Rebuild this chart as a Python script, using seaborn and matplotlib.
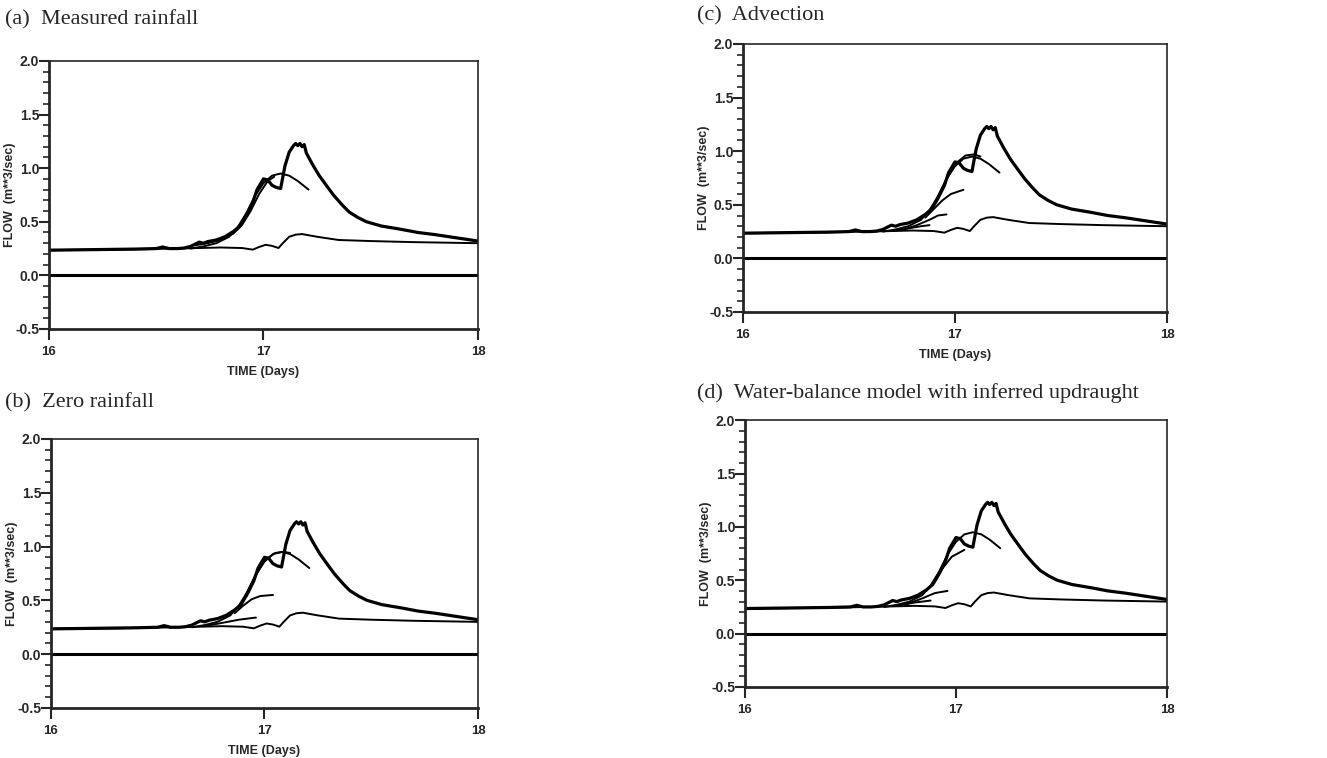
import numpy as np
import pandas as pd
import matplotlib
matplotlib.use('Agg')
import matplotlib.pyplot as plt
import seaborn as sns
from matplotlib.ticker import MultipleLocator

sns.set_style('ticks')
plt.rcParams['font.family'] = ['Liberation Sans', 'DejaVu Sans']

# observed flow (thick line)
obs_t = [16.0, 16.2, 16.4, 16.5, 16.53, 16.56, 16.6, 16.63, 16.66, 16.7, 16.72, 16.74,
         16.78, 16.82, 16.86, 16.89, 16.92, 16.95, 16.97, 17.0, 17.02, 17.04, 17.06,
         17.08, 17.1, 17.12, 17.14, 17.15, 17.16, 17.17, 17.18, 17.19, 17.2, 17.23,
         17.26, 17.3, 17.33, 17.37, 17.4, 17.44, 17.48, 17.55, 17.64, 17.72, 17.8,
         17.9, 18.0]
obs_q = [0.235, 0.24, 0.245, 0.25, 0.265, 0.25, 0.25, 0.255, 0.27, 0.31, 0.30, 0.315,
         0.33, 0.36, 0.41, 0.46, 0.56, 0.68, 0.80, 0.90, 0.89, 0.84, 0.82,
         0.81, 1.02, 1.15, 1.21, 1.23, 1.21, 1.23, 1.20, 1.22, 1.14, 1.03,
         0.93, 0.82, 0.74, 0.65, 0.59, 0.54, 0.50, 0.46, 0.43, 0.40, 0.38,
         0.35, 0.32]

# lower model curve
base_t = [16.0, 16.3, 16.6, 16.8, 16.9, 16.95, 16.98, 17.01, 17.04, 17.07, 17.09, 17.12,
          17.15, 17.18, 17.25, 17.35, 17.5, 17.7, 18.0]
base_q = [0.235, 0.24, 0.25, 0.26, 0.255, 0.24, 0.265, 0.285, 0.275, 0.255, 0.30, 0.36,
          0.38, 0.385, 0.36, 0.33, 0.32, 0.31, 0.30]

# long forecast
fc_t = [16.66, 16.72, 16.78, 16.84, 16.88, 16.92, 16.96, 17.0, 17.04, 17.08, 17.12, 17.16, 17.21]
fc_q = [0.25, 0.27, 0.30, 0.36, 0.45, 0.58, 0.74, 0.86, 0.93, 0.95, 0.93, 0.88, 0.80]

# short forecasts per panel
a_short = [([16.68, 16.74, 16.8, 16.86, 16.9, 16.94, 16.98, 17.02, 17.05],
            [0.28, 0.30, 0.33, 0.39, 0.47, 0.60, 0.76, 0.88, 0.92])]
b_short = [([16.72, 16.8, 16.88, 16.96], [0.26, 0.29, 0.32, 0.34]),
           ([16.86, 16.9, 16.94, 16.98, 17.04], [0.38, 0.45, 0.51, 0.54, 0.55]),
           ([16.9, 16.95, 17.0, 17.05, 17.09, 17.12], [0.50, 0.70, 0.87, 0.94, 0.95, 0.94])]
c_short = [([16.72, 16.78, 16.84, 16.88], [0.26, 0.28, 0.30, 0.31]),
           ([16.76, 16.82, 16.88, 16.92, 16.96], [0.27, 0.31, 0.36, 0.40, 0.41]),
           ([16.86, 16.9, 16.94, 16.98, 17.04], [0.38, 0.46, 0.54, 0.60, 0.64]),
           ([16.9, 16.95, 17.0, 17.05, 17.09, 17.12], [0.50, 0.70, 0.88, 0.96, 0.97, 0.95])]
d_short = [([16.72, 16.8, 16.88], [0.26, 0.29, 0.31]),
           ([16.76, 16.84, 16.9, 16.96], [0.27, 0.33, 0.38, 0.40]),
           ([16.86, 16.9, 16.94, 16.98, 17.04], [0.40, 0.50, 0.62, 0.72, 0.785])]

titles = ['(a)  Measured rainfall', '(b)  Zero rainfall', '(c)  Advection',
          '(d)  Water-balance model with inferred updraught']
y_ticks = [-0.5, 0.0, 0.5, 1.0, 1.5, 2.0]
x_ticks = [16, 17, 18]


def draw_panel(ax, shorts, xlabel):
    sns.lineplot(x=obs_t, y=obs_q, ax=ax, color='black', lw=2.3)
    sns.lineplot(x=base_t, y=base_q, ax=ax, color='black', lw=1.4)
    sns.lineplot(x=fc_t, y=fc_q, ax=ax, color='black', lw=1.4)
    for t, q in shorts:
        sns.lineplot(x=t, y=q, ax=ax, color='black', lw=1.4)
    ax.axhline(0.0, color='black', lw=2.2)
    ax.set_xlim(16, 18)
    ax.set_ylim(-0.5, 2.0)
    ax.set_xticks(x_ticks)
    ax.set_xticklabels([str(v) for v in x_ticks], fontweight='bold', fontsize=9.5)
    ax.set_yticks(y_ticks)
    ax.set_yticklabels([f'{v:.1f}' for v in y_ticks], fontweight='bold', fontsize=10)
    ax.yaxis.set_minor_locator(MultipleLocator(0.1))
    ax.tick_params(axis='y', which='major', length=7, width=1.5, direction='out', pad=0)
    ax.tick_params(axis='y', which='minor', length=4, width=1.2, direction='out')
    ax.tick_params(axis='x', which='major', length=8, width=1.5, direction='out', pad=4)
    for side in ['left', 'bottom']:
        ax.spines[side].set_linewidth(2.0)
    for side in ['top', 'right']:
        ax.spines[side].set_linewidth(1.2)
        ax.spines[side].set_visible(True)
    ax.set_ylabel('FLOW  (m**3/sec)', fontweight='bold', fontsize=9)
    # just left of the tick labels
    ax.yaxis.set_label_coords(-0.077, 0.5)
    if xlabel:
        ax.set_xlabel('TIME (Days)', fontweight='bold', fontsize=9, labelpad=6)
    else:
        ax.set_xlabel('')


fig = plt.figure(figsize=(13.27, 7.58), dpi=100)
ax_a = fig.add_axes([0.0369, 0.566, 0.3233, 0.3536])
ax_b = fig.add_axes([0.0384, 0.066, 0.3218, 0.355])
ax_c = fig.add_axes([0.5599, 0.5884, 0.3195, 0.3536])
ax_d = fig.add_axes([0.5614, 0.0937, 0.318, 0.352])

draw_panel(ax_a, a_short, True)
draw_panel(ax_b, b_short, True)
draw_panel(ax_c, c_short, True)
draw_panel(ax_d, d_short, False)

title_font = dict(family=['Liberation Serif', 'DejaVu Serif'], fontsize=16, va='center', ha='left')
fig.text(0.004, 0.9736, titles[0], **title_font)
fig.text(0.004, 0.468, titles[1], **title_font)
fig.text(0.525, 0.979, titles[2], **title_font)
fig.text(0.525, 0.4815, titles[3], **title_font)

fig.savefig('out.png', dpi=100, facecolor='white')
